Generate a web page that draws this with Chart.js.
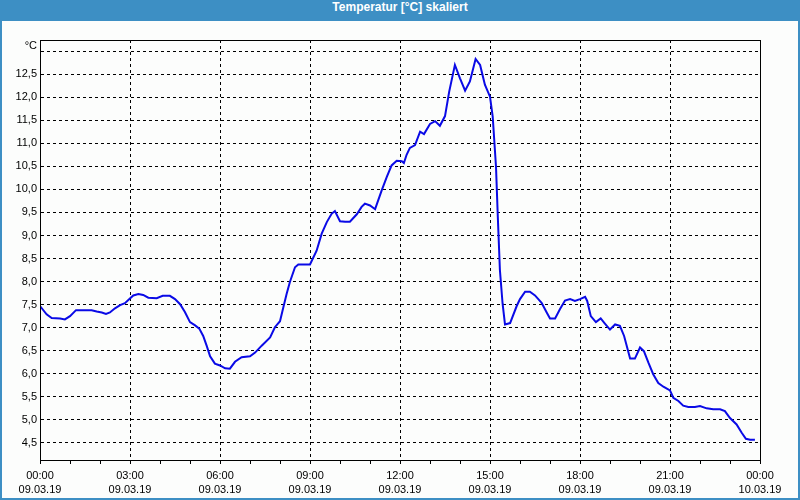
<!DOCTYPE html>
<html>
<head>
<meta charset="utf-8">
<script src="https://cdn.jsdelivr.net/npm/chart.js@4"></script>
<style>
  html, body { margin: 0; padding: 0; background: #3d8fc4; }
  #wrap { position: absolute; left: 0; top: 0; width: 800px; height: 500px; background: #3d8fc4; }
  #title { position: absolute; left: 0; top: 0; width: 800px; height: 21px; line-height: 21px;
           text-align: center; color: #ffffff; font: bold 12px "Liberation Sans", Arial, sans-serif; }
  #inner { position: absolute; left: 2px; top: 21px; width: 796px; height: 477px; background: #fcfdfc; }
  canvas { display: block; }
</style>
</head>
<body>
<div id="wrap">
  <div id="title">Temperatur [°C] skaliert</div>
  <div id="inner"><canvas id="c" width="796" height="477"></canvas></div>
</div>
<script>
// Hours since 09.03.19 00:00
const hours = [
  0.0, 0.22, 0.39, 0.67, 0.83, 1.0, 1.2, 1.44, 1.72, 1.89, 2.06, 2.2, 2.33, 2.5, 2.67, 2.83, 2.98,
  3.11, 3.28, 3.44, 3.61, 3.89, 4.09, 4.33, 4.5, 4.67, 4.83, 5.0, 5.17, 5.31, 5.44, 5.56, 5.67, 5.83,
  6.0, 6.17, 6.33, 6.5, 6.72, 7.0, 7.17, 7.39, 7.67, 7.83, 8.0, 8.11, 8.22, 8.33, 8.5, 8.61,
  9.0, 9.22, 9.39, 9.56, 9.72, 9.83, 10.0, 10.17, 10.33, 10.56, 10.72, 10.83, 11.0, 11.17, 11.39, 11.56, 11.72, 11.89,
  12.06, 12.13, 12.22, 12.33, 12.5, 12.67, 12.8, 13.0, 13.17, 13.33, 13.5, 13.64, 13.83, 14.0, 14.17, 14.33, 14.52, 14.67, 14.83,
  15.0, 15.09, 15.2, 15.26, 15.33, 15.42, 15.5, 15.67, 15.89, 16.0, 16.17, 16.33, 16.5, 16.72, 16.89, 17.0, 17.17, 17.33, 17.5, 17.67, 17.83,
  18.0, 18.17, 18.24, 18.36, 18.53, 18.69, 18.83, 19.0, 19.17, 19.33, 19.47, 19.67, 19.83,
  20.0, 20.13, 20.28, 20.44, 20.61, 20.78, 21.0, 21.11, 21.28, 21.44, 21.61, 21.83, 22.0, 22.22, 22.44, 22.67, 22.83,
  23.0, 23.22, 23.39, 23.53, 23.67, 23.83
];
// Temperature in °C
const temps = [
  7.47, 7.29, 7.21, 7.20, 7.18, 7.25, 7.38, 7.38, 7.38, 7.35, 7.33, 7.30, 7.33, 7.42, 7.49, 7.53, 7.62,
  7.70, 7.73, 7.71, 7.65, 7.64, 7.69, 7.69, 7.62, 7.51, 7.34, 7.12, 7.05, 6.98, 6.82, 6.60, 6.38, 6.22,
  6.18, 6.12, 6.11, 6.26, 6.36, 6.38, 6.46, 6.61, 6.79, 7.01, 7.14, 7.44, 7.73, 7.99, 8.31, 8.37,
  8.37, 8.67, 9.04, 9.29, 9.47, 9.53, 9.31, 9.30, 9.30, 9.46, 9.62, 9.69, 9.65, 9.57, 9.98, 10.27, 10.52, 10.62,
  10.61, 10.57, 10.75, 10.90, 10.96, 11.25, 11.20, 11.42, 11.48, 11.38, 11.59, 12.12, 12.70, 12.41, 12.14, 12.34, 12.83, 12.70, 12.27,
  12.01, 11.58, 10.49, 9.41, 8.25, 7.52, 7.07, 7.10, 7.47, 7.62, 7.78, 7.78, 7.70, 7.54, 7.33, 7.20, 7.20, 7.40, 7.59, 7.62, 7.58,
  7.62, 7.67, 7.58, 7.25, 7.12, 7.20, 7.09, 6.96, 7.07, 7.04, 6.82, 6.33, 6.33,
  6.57, 6.49, 6.24, 5.99, 5.80, 5.72, 5.64, 5.48, 5.41, 5.31, 5.28, 5.28, 5.30, 5.25, 5.23, 5.23, 5.19,
  5.04, 4.90, 4.72, 4.59, 4.57, 4.57
];
// Axis tick labels
const xTickHours = [0, 3, 6, 9, 12, 15, 18, 21, 24];
const xTickTimes = ["00:00", "03:00", "06:00", "09:00", "12:00", "15:00", "18:00", "21:00", "00:00"];
const xTickDates = ["09.03.19", "09.03.19", "09.03.19", "09.03.19", "09.03.19", "09.03.19", "09.03.19", "09.03.19", "10.03.19"];
const yUnit = "°C";

const FONT = { family: '"Liberation Sans", Arial, sans-serif', size: 11, lineHeight: 1.36 };

const framePlugin = {
  id: 'frame',
  afterDraw(chart) {
    const { ctx, chartArea: a } = chart;
    ctx.save();
    ctx.strokeStyle = '#000';
    ctx.lineWidth = 1;
    ctx.setLineDash([]);
    ctx.strokeRect(Math.round(a.left) + 0.5, Math.round(a.top) + 0.5,
                   Math.round(a.right - a.left), Math.round(a.bottom - a.top));
    ctx.fillStyle = '#000';
    ctx.font = '11px "Liberation Sans", Arial, sans-serif';
    ctx.textAlign = 'right';
    ctx.textBaseline = 'middle';
    ctx.fillText(yUnit, a.left - 3, a.top + 6);
    ctx.restore();
  }
};

new Chart(document.getElementById('c'), {
  type: 'line',
  data: {
    datasets: [{
      data: hours.map((h, i) => ({ x: h, y: temps[i] })),
      borderColor: '#0a0ae6',
      borderWidth: 2,
      pointRadius: 0,
      tension: 0,
      fill: false
    }]
  },
  options: {
    responsive: false,
    animation: false,
    events: [],
    layout: { padding: { top: 19, right: 38, bottom: 0, left: 0 } },
    plugins: { legend: { display: false }, tooltip: { enabled: false }, title: { display: false } },
    scales: {
      x: {
        type: 'linear',
        min: 0,
        max: 24,
        afterFit(s) { s.height = 38; },
        afterBuildTicks(s) {
          const t = [];
          for (let h = 0; h <= 24; h++) t.push({ value: h });
          s.ticks = t;
        },
        ticks: {
          autoSkip: false,
          maxRotation: 0,
          padding: 4,
          color: '#000',
          font: FONT,
          callback(v) {
            const k = xTickHours.indexOf(v);
            return k >= 0 ? [xTickTimes[k], xTickDates[k]] : '';
          }
        },
        grid: {
          drawOnChartArea: true,
          drawTicks: true,
          tickLength: 4,
          color: (c) => (c.tick && xTickHours.includes(c.tick.value) && c.tick.value !== 0 && c.tick.value !== 24) ? '#000' : 'rgba(0,0,0,0)',
          tickColor: '#000',
          lineWidth: 1
        },
        border: { display: true, color: '#000', width: 1, dash: [3, 3] }
      },
      y: {
        type: 'linear',
        min: 4.13,
        max: 13.24,
        afterFit(s) { s.width = 38; },
        afterBuildTicks(s) {
          const t = [];
          for (let v = 4.5; v <= 13.0001; v += 0.5) t.push({ value: Math.round(v * 10) / 10 });
          s.ticks = t;
        },
        ticks: {
          autoSkip: false,
          padding: 3,
          color: '#000',
          font: { family: FONT.family, size: 11 },
          callback(v) { return v >= 13 ? '' : v.toFixed(1).replace('.', ','); }
        },
        grid: {
          drawTicks: false,
          color: '#000',
          lineWidth: 1
        },
        border: { display: true, color: '#000', width: 1, dash: [3, 3] }
      }
    }
  },
  plugins: [framePlugin]
});
</script>
</body>
</html>
